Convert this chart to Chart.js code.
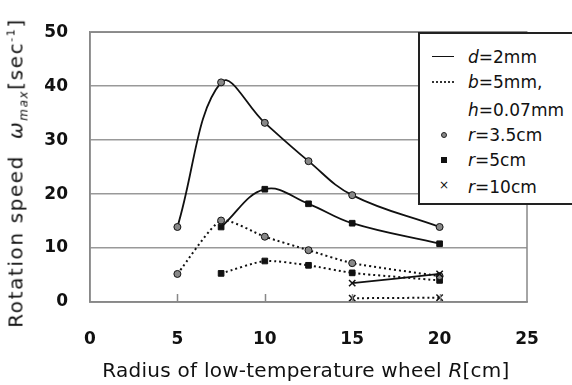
<!DOCTYPE html>
<html>
<head>
<meta charset="utf-8">
<script src="https://cdn.jsdelivr.net/npm/chart.js@4.4.0/dist/chart.umd.min.js"></script>
<style>
  body { margin: 0; background: #fff; }
  #wrap { position: relative; width: 572px; height: 385px; overflow: hidden; font-family: "DejaVu Sans", sans-serif; color: #111; }
  #c { position: absolute; left: 0; top: 0; }
  .ytitle { position: absolute; left: 17px; top: 173px; white-space: nowrap; font-size: 20px; letter-spacing: 1.6px;
            transform: translate(-50%, -50%) rotate(-90deg); }
  .xtitle { position: absolute; left: 306px; top: 370px; white-space: nowrap; font-size: 20px; letter-spacing: 0.25px;
            transform: translate(-50%, -50%); }
  #legend { position: absolute; left: 418px; top: 32px; width: 200px; height: 169px;
            border: 2px solid #222; background: #fff; }
  .row { position: absolute; left: 48px; font-size: 17px; white-space: nowrap; transform: translateY(-50%); }
  .sym { position: absolute; }
</style>
</head>
<body>
<div id="wrap">
  <canvas id="c" width="572" height="385"></canvas>
  <div class="ytitle">Rotation speed&nbsp;&nbsp;<i>ω</i><sub style="font-size:12px"><i>max</i></sub>[sec<sup style="font-size:11px">-1</sup>]</div>
  <div class="xtitle">Radius of low-temperature wheel <i>R</i>[cm]</div>
  <div id="legend">
    <div class="sym" style="left:12px;top:22px;width:22px;border-top:1.5px solid #111"></div>
    <div class="row" style="top:23px"><i>d</i>=2mm</div>
    <div class="sym" style="left:12px;top:47px;width:22px;border-top:2px dotted #333"></div>
    <div class="row" style="top:48px"><i>b</i>=5mm,</div>
    <div class="row" style="top:76px"><i>h</i>=0.07mm</div>
    <div class="sym" style="left:21px;top:98px;width:4px;height:4px;border:1px solid #222;border-radius:50%;background:#888"></div>
    <div class="row" style="top:101px"><i>r</i>=3.5cm</div>
    <div class="sym" style="left:21px;top:123px;width:6px;height:6px;background:#111"></div>
    <div class="row" style="top:126px"><i>r</i>=5cm</div>
    <div class="sym" style="left:19px;top:144px;font-size:12px">×</div>
    <div class="row" style="top:153px"><i>r</i>=10cm</div>
  </div>
</div>
<script>
// radius of low-temperature wheel R [cm]
const radius = [5, 7.5, 10, 12.5, 15, 20];

// d = 2mm (solid lines)
const d2_r35 = [13.9, 40.7, 33.2, 26.1, 19.8, 13.9];
const d2_r5  = [null, 13.9, 20.9, 18.2, 14.6, 10.8];
const d2_r10 = [null, null, null, null, 3.5, 5.2];

// b = 5mm, h = 0.07mm (dotted lines)
const b5_r35 = [5.2, 15.1, 12.1, 9.6, 7.2, 4.8];
const b5_r5  = [null, 5.3, 7.6, 6.8, 5.4, 4.0];
const b5_r10 = [null, null, null, null, 0.7, 0.8];

const xTicks = [0, 5, 10, 15, 20, 25];
const yTicks = [0, 10, 20, 30, 40, 50];

function pts(arr) {
  return radius.map((x, i) => ({x: x, y: arr[i]})).filter(p => p.y !== null);
}

function ds(arr, dotted, marker) {
  let o = {
    data: pts(arr),
    borderColor: '#111',
    borderWidth: dotted ? 2 : 1.8,
    borderDash: dotted ? [2, 3] : [],
    tension: dotted ? 0.2 : 0.4,
    pointBorderColor: '#111',
    pointBorderWidth: 1,
    pointRadius: 3.5,
    pointStyle: 'circle',
    pointBackgroundColor: '#888'
  };
  if (marker == 'square') {
    o.pointStyle = 'rect';
    o.pointBackgroundColor = '#111';
    o.pointRadius = 4;
  }
  if (marker == 'cross') {
    o.pointStyle = 'crossRot';
    o.pointRadius = 4.5;
    o.pointBorderWidth = 1.5;
  }
  return o;
}

// plot frame + little inside ticks on the x axis
const frame = {
  id: 'frame',
  afterDraw(chart) {
    const ctx = chart.ctx, a = chart.chartArea, xs = chart.scales.x;
    ctx.save();
    ctx.strokeStyle = '#888';
    ctx.lineWidth = 1.5;
    ctx.strokeRect(a.left, a.top, a.right - a.left, a.bottom - a.top);
    ctx.beginPath();
    [5, 10, 15, 20].forEach(v => {
      let px = Math.round(xs.getPixelForValue(v)) + 0.5;
      ctx.moveTo(px, a.bottom);
      ctx.lineTo(px, a.bottom - 8);
    });
    ctx.stroke();
    ctx.restore();
  }
};

new Chart(document.getElementById('c'), {
  type: 'line',
  data: {
    datasets: [
      ds(d2_r35, false, 'circle'),
      ds(d2_r5, false, 'square'),
      ds(d2_r10, false, 'cross'),
      ds(b5_r35, true, 'circle'),
      ds(b5_r5, true, 'square'),
      ds(b5_r10, true, 'cross')
    ]
  },
  options: {
    responsive: false,
    animation: false,
    layout: { padding: { top: 16, right: 45, left: 0, bottom: 0 } },
    plugins: { legend: { display: false }, tooltip: { enabled: false } },
    scales: {
      x: {
        type: 'linear', min: 0, max: 25,
        afterBuildTicks: s => { s.ticks = xTicks.map(v => ({value: v})); },
        afterFit: s => { s.height = 83; },
        grid: { display: false },
        border: { color: '#888', width: 1.5 },
        ticks: { padding: 19, color: '#111', font: { family: 'DejaVu Sans', size: 17, weight: 'bold' } }
      },
      y: {
        min: 0, max: 50,
        afterBuildTicks: s => { s.ticks = yTicks.map(v => ({value: v})); },
        afterFit: s => { s.width = 90; },
        grid: { color: '#999', lineWidth: 1.5, drawTicks: false },
        border: { color: '#888', width: 1.5 },
        ticks: { padding: 22, color: '#111', font: { family: 'DejaVu Sans', size: 17, weight: 'bold' } }
      }
    }
  },
  plugins: [frame]
});
</script>
</body>
</html>
